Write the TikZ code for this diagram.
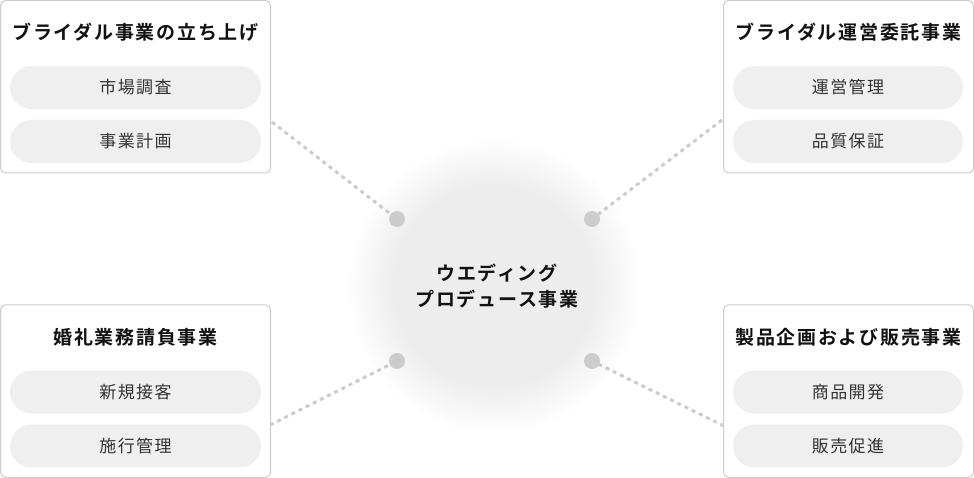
\documentclass[tikz,border=0pt]{standalone}
\usepackage{fontspec}
\setmainfont{Noto Sans CJK JP}[BoldFont={Noto Sans CJK JP Bold}]
\newfontfamily\titlefam{Noto Sans CJK JP Bold}[LetterSpace=9]
\newfontfamily\itemfam{Noto Sans CJK JP}[LetterSpace=8]
\definecolor{boxline}{HTML}{CCCCCC}
\definecolor{pillfill}{HTML}{EFEFEF}
\definecolor{dotc}{HTML}{CCCCCC}
\definecolor{discgray}{HTML}{EDEDED}
\definecolor{titlec}{HTML}{111111}
\definecolor{itemc}{HTML}{333333}
\pgfdeclareradialshading{softdisc}{\pgfpoint{0bp}{0bp}}{color(0bp)=(discgray); color(17bp)=(discgray); color(21bp)=(discgray!50!white); color(25bp)=(white); color(50bp)=(white)}
\begin{document}
\begin{tikzpicture}[x=1pt,y=-1pt,
  panel/.style={draw=boxline, line width=1pt, rounded corners=5pt, fill=white, inner sep=0pt, minimum height=172.5pt},
  lpanel/.style={panel, minimum width=270pt},
  rpanel/.style={panel, minimum width=250pt},
  ptitle/.style={font=\titlefam\fontsize{19}{22}\selectfont, text=titlec, inner sep=0pt},
  pill/.style={fill=pillfill, rounded corners=21.5pt, minimum height=43pt, inner sep=0pt, font=\itemfam\fontsize{17}{20}\selectfont, text=itemc},
  lpill/.style={pill, minimum width=251pt},
  rpill/.style={pill, minimum width=230pt},
  hubdot/.style={circle, fill=dotc, minimum size=16pt, inner sep=0pt},
  conn/.style={draw=dotc, line width=3pt, dash pattern=on 4pt off 4pt},
  hub/.style={circle, minimum size=296pt, shading=softdisc, inner sep=0pt, align=center, font=\titlefam\fontsize{19}{26}\selectfont, text=titlec}
]
\useasboundingbox (0,0) rectangle (974,478);
% central hub
\node[hub] (hub) at (494,286) {};
\node[font=\titlefam\fontsize{19}{26}\selectfont, text=titlec, align=center, inner sep=0pt] (hubtext) at (497,286) {ウエディング\\プロデュース事業};
% dots
\node[hubdot] (d1) at (397,219) {};
\node[hubdot] (d2) at (592,219) {};
\node[hubdot] (d3) at (397,361) {};
\node[hubdot] (d4) at (592,361) {};
% connector free ends
\coordinate (c1) at (272,122);
\coordinate (c2) at (722,120);
\coordinate (c3) at (270,425);
\coordinate (c4) at (724,426);
\draw[conn] (c1) -- (d1.center);
\draw[conn] (c2) -- (d2.center);
\draw[conn] (c3) -- (d3.center);
\draw[conn] (c4) -- (d4.center);
% panels
\node[lpanel] (p1) at (135.5,86.75) {};
\node[rpanel] (p2) at (848.5,86.75) {};
\node[lpanel] (p3) at (135.5,391) {};
\node[rpanel] (p4) at (848.5,391) {};
% titles
\node[ptitle] (t1) at (135.5,32) {ブライダル事業の立ち上げ};
\node[ptitle] (t2) at (848.5,32) {ブライダル運営委託事業};
\node[ptitle] (t3) at (135.5,337) {婚礼業務請負事業};
\node[ptitle] (t4) at (848.5,337) {製品企画および販売事業};
% items
\node[lpill] (i11) at (135.5,87.5) {市場調査};
\node[lpill] (i12) at (135.5,141.5) {事業計画};
\node[rpill] (i21) at (848,87.5) {運営管理};
\node[rpill] (i22) at (848,141.5) {品質保証};
\node[lpill] (i31) at (135.5,392) {新規接客};
\node[lpill] (i32) at (135.5,446) {施行管理};
\node[rpill] (i41) at (848,392) {商品開発};
\node[rpill] (i42) at (848,446) {販売促進};
\end{tikzpicture}
\end{document}
